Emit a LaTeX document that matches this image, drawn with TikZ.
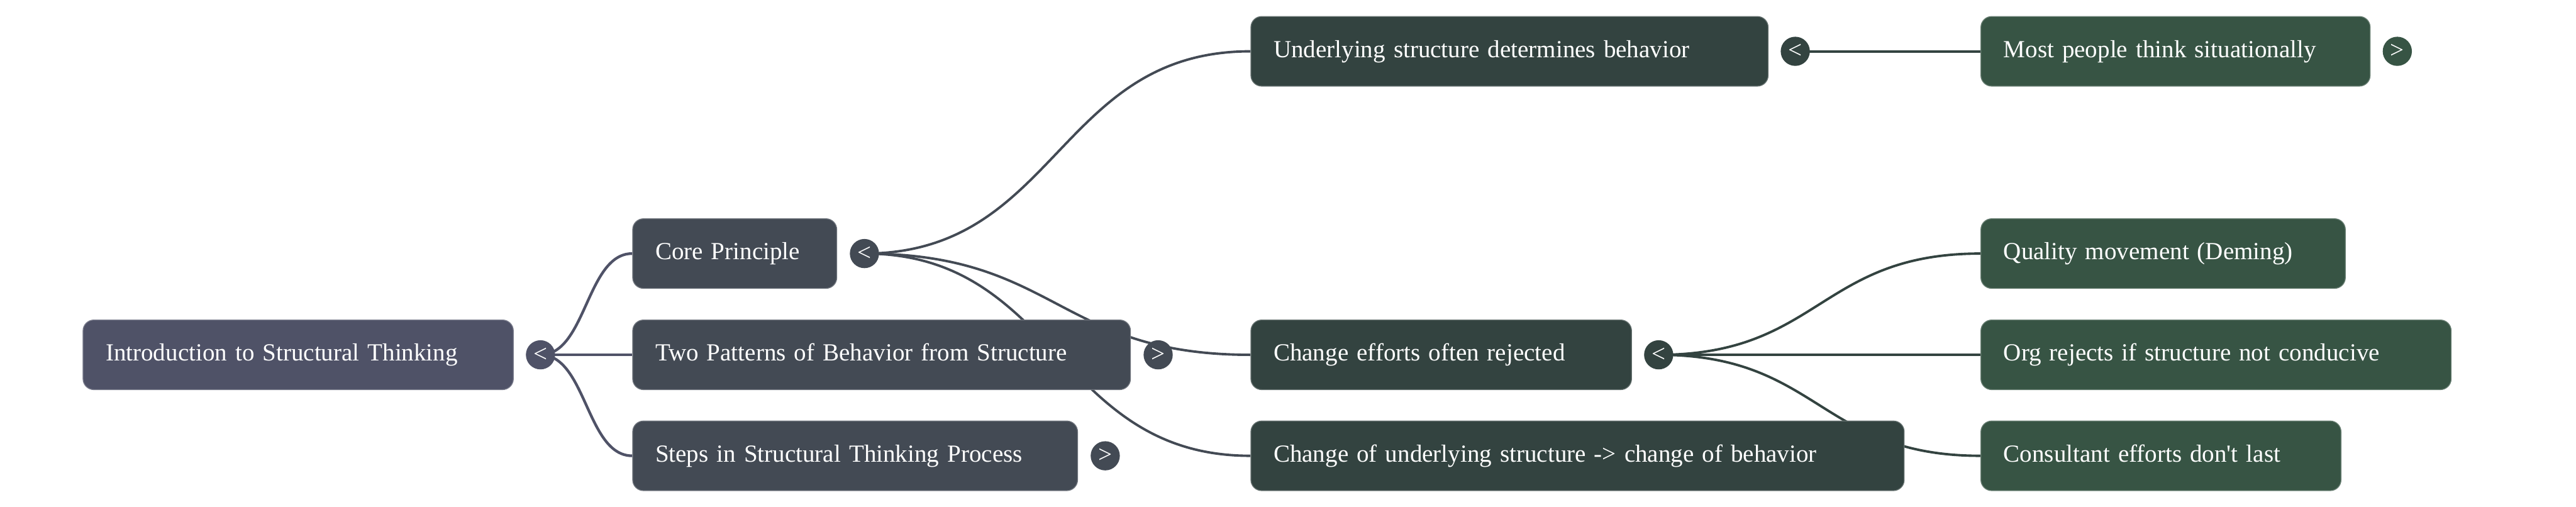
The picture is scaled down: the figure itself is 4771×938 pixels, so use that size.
\documentclass[tikz,border=0pt]{standalone}
\usepackage{fontspec}
\setmainfont{Liberation Serif}
\usetikzlibrary{calc,backgrounds}
\definecolor{c0}{HTML}{4F5267}
\definecolor{c1}{HTML}{434A54}
\definecolor{c2}{HTML}{334340}
\definecolor{c3}{HTML}{375444}
\begin{document}
\begin{tikzpicture}[x=0.2pt,y=-0.2pt,
  box/.style={anchor=west, rounded corners=4pt, minimum height=25.8pt,
    inner xsep=8.4pt, inner ysep=0pt, align=left, text=white,
    font=\fontsize{9.1pt}{11pt}\selectfont, text height=6.4pt, text depth=2pt,
    fill=#1, draw=#1!75!white, line width=0.3pt},
  tog/.style={circle, minimum size=10.8pt, inner sep=0pt, text=white,
    font=\fontsize{9.1pt}{11pt}\selectfont, fill=#1},
  mm/.style={to path={let \p1=(\tikztostart), \p2=(\tikztotarget) in
    .. controls ({(\x1+\x2)/2},\y1) and ({(\x1+\x2)/2},\y2) .. (\tikztotarget)}},
  edge0/.style={draw=c0, line width=1pt},
  edge1/.style={draw=c1, line width=0.9pt},
  edge2/.style={draw=c2, line width=0.9pt}]
\useasboundingbox (0,0) rectangle (4771,938);

% level 0
\node[box=c0, text width=142.6pt] (root) at (153,657) {Introduction to Structural Thinking};
% level 1
\node[box=c1, text width=58.8pt]  (core)  at (1171,469.5) {Core Principle};
\node[box=c1, text width=167.6pt] (two)   at (1171,657) {Two Patterns of Behavior from Structure};
\node[box=c1, text width=148pt]   (steps) at (1171,844) {Steps in Structural Thinking Process};
% level 2
\node[box=c2, text width=174.8pt] (under) at (2316,95) {Underlying structure determines behavior};
\node[box=c2, text width=124.2pt] (cheff) at (2316,657) {Change efforts often rejected};
\node[box=c2, text width=225.2pt] (chund) at (2316,844) {Change of underlying structure -> change of behavior};
% level 3
\node[box=c3, text width=127.4pt] (most) at (3668,95) {Most people think situationally};
\node[box=c3, text width=118.2pt] (qual) at (3668,469.5) {Quality movement (Deming)};
\node[box=c3, text width=157.4pt] (org)  at (3668,657) {Org rejects if structure not conducive};
\node[box=c3, text width=116.6pt] (cons) at (3668,844) {Consultant efforts don\textquotesingle t last};

% toggles
\node[tog=c0] (troot)  at (1001,657) {<};
\node[tog=c1] (tcore)  at (1601,469.5) {<};
\node[tog=c1] (ttwo)   at (2145,657) {>};
\node[tog=c1] (tsteps) at (2047,844) {>};
\node[tog=c2] (tunder) at (3325,95) {<};
\node[tog=c2] (tcheff) at (3072,657) {<};
\node[tog=c3] (tmost)  at (4440,95) {>};

% connectors
\begin{scope}[on background layer]
\draw[edge0] (troot.center) to[mm] (core.west);
\draw[edge0] (troot.center) to[mm] (two.west);
\draw[edge0] (troot.center) to[mm] (steps.west);
\draw[edge1] (tcore.center) to[mm] (under.west);
\draw[edge1] (tcore.center) to[mm] (cheff.west);
\draw[edge1] (tcore.center) to[mm] (chund.west);
\draw[edge2] (tunder.center) -- (most.west);
\draw[edge2] (tcheff.center) to[mm] (qual.west);
\draw[edge2] (tcheff.center) to[mm] (org.west);
\draw[edge2] (tcheff.center) to[mm] (cons.west);
\end{scope}
\end{tikzpicture}
\end{document}
